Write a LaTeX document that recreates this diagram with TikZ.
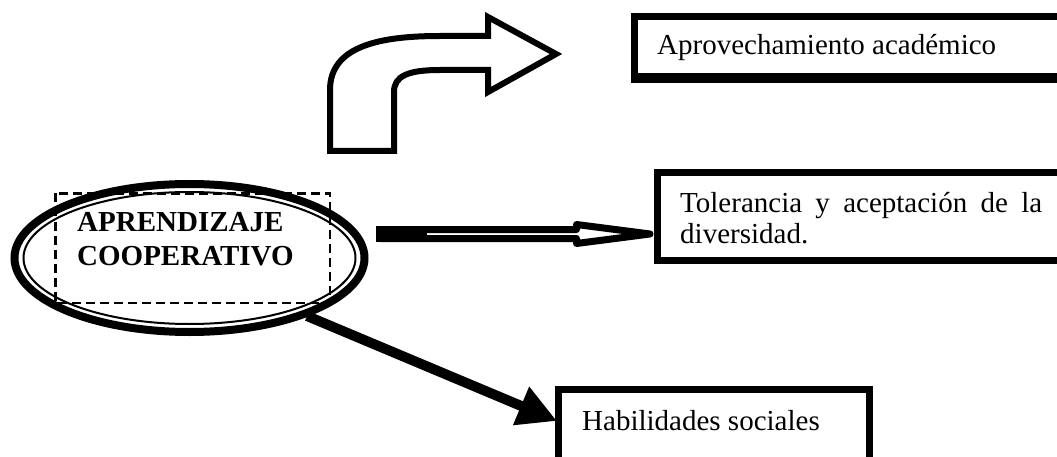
\documentclass[tikz,border=0pt]{standalone}
\usepackage{fontspec}
\setmainfont{Liberation Serif}
\usetikzlibrary{arrows.meta,calc}
\begin{document}
\begin{tikzpicture}[x=1pt,y=-1pt,
  txt/.style={anchor=base west,inner sep=0pt,font=\fontsize{29}{34}\selectfont},
  boldtxt/.style={txt,font=\fontsize{29}{34}\selectfont\bfseries},
  framebox/.style={draw=black,line width=7pt,line join=miter},
  blockarrow/.style={draw=black,fill=white,line width=6pt,line join=miter},
  outlinearrow/.style={draw=black,fill=white,line width=7pt,line join=round},
  dashframe/.style={draw=black,line width=2.6pt,dash pattern=on 9pt off 5pt},
  heavyarrow/.style={draw=black,line width=10pt,-{Triangle[length=39pt,width=39pt]}}]
\useasboundingbox (0,0) rectangle (1057,457);

% central ellipse with thick-thin double outline
\draw[line width=8pt] (189.5,258) ellipse [x radius=175, y radius=74];
\draw[line width=2pt] (189.5,258) ellipse [x radius=166, y radius=66];
\draw[dashframe] (55.5,193.5) rectangle (330,303);
\node[boldtxt] (apr) at (77,231) {APRENDIZAJE};
\node[boldtxt] (coop) at (77,265) {COOPERATIVO};

% result boxes (running off the page edges)
\draw[framebox] (634.5,16.5) rectangle (1075,78);
\draw[line width=10pt] (631,78) -- (1075,78);
\node[txt] (aprov) at (657,55) {Aprovechamiento académico};

\draw[framebox] (657,173) rectangle (1075,260);
\node[txt] (tol1) at (680,213) {\makebox[362pt][s]{Tolerancia y aceptación de la}};
\node[txt] (tol2) at (680,243) {diversidad.};

\draw[framebox] (558.5,389) rectangle (869,480);
\node[txt] (hab) at (582,430) {Habilidades sociales};

% connector end points
\coordinate (coopE) at (379.5,234);
\coordinate (tolW) at (653,234);
\coordinate (coopS) at (307,316);
\coordinate (habW) at (557,421);

% bent block arrow towards the top box
\draw[blockarrow] (330,151) -- (330,90)
  .. controls (330,46) and (380,36) .. (440,36)
  -- (488,36) -- (488,17) -- (556,54) -- (488,92) -- (488,70)
  -- (440,70) .. controls (408,70) and (394,76) .. (394,92)
  -- (394,151) -- cycle;

% hollow double-line arrow towards the middle box
\draw[outlinearrow] let \p1=(coopE), \p2=(tolW) in
  (\x1,\y1+4.5pt) -- (\x2-76.5pt,\y1+4.5pt) -- (\x2-76.5pt,\y1+9.5pt)
  -- (\x2-3pt,\y2) -- (\x2-76.5pt,\y1-9.5pt) -- (\x2-76.5pt,\y1-4.5pt)
  -- (\x1,\y1-4.5pt) -- cycle;
\fill[black] (coopE) ++(-3.5,-8) rectangle ++(51,16);

% heavy arrow towards the bottom box
\draw[heavyarrow] (coopS) -- (habW);
\end{tikzpicture}
\end{document}
